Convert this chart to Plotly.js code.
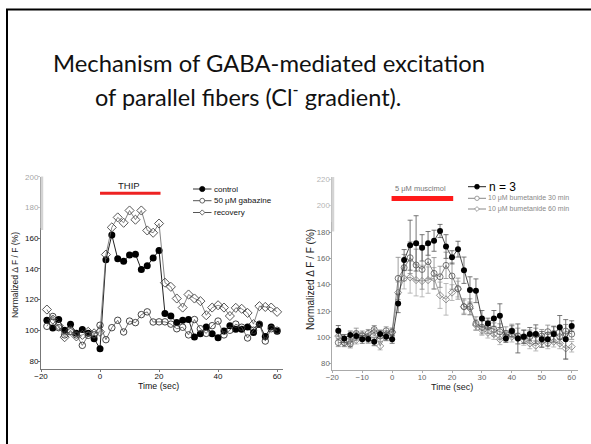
<!DOCTYPE html>
<html>
<head>
<meta charset="utf-8">
<script src="https://cdn.plot.ly/plotly-3.0.1.min.js"></script>
<style>html,body{margin:0;padding:0;background:#fff;}#chart{width:591px;height:444px;}</style>
</head>
<body>
<div id="chart"></div>
<script>
// ---------- DATA ----------
const timeLeft = [-18,-16,-14,-12,-10,-8,-6,-4,-2,0,2,4,6,8,10,12,14,16,18,20,22,24,26,28,30,32,34,36,38,40,42,44,46,48,50,52,54,56,58,60];
const controlLeft = [106.5,101.5,107,100,104,98,100.5,98,94.5,88,146,162,146.5,145,149,149.5,139.5,142,147,152,111,109.3,105,106.5,107,95.6,97.8,102.2,97.8,95.2,99.6,103,100.7,100.7,102.2,98.5,103.7,96,102.2,99.3];
const gabazineLeft = [102.6,109,101.7,97,99,97,90.2,96.7,97,103.3,93.9,101.7,106.5,98.9,106,105,110.2,112,105.4,105.5,105.5,104,101,102,97,107,101,98,103,106,97,100,104,102,95,100,104,93,101,100];
const recoveryLeft = [113.5,107,103,95.5,100,96,97,99,98,99,149.3,167,173.5,170,178,172,178,165,163.5,169.5,131,128.3,120.7,114.8,123.3,120.7,119,109.8,114.8,116.3,114.8,109.3,114.6,114,111.3,104,115.7,115.2,114.8,112];

const timeRight = [-18,-16,-14,-12,-10,-8,-6,-4,-2,0,2,4,6,8,10,12,14,16,18,20,22,24,26,28,30,32,34,36,38,40,42,44,46,48,50,52,54,56,58,60];
const controlRight = [105,99.2,101.8,101,98.5,98.7,96.7,102.5,100.5,98.5,125.8,158.7,170,171.4,168,171.4,173.4,180.8,169,160.8,167,151,136,135.4,114.4,110.6,114.4,116.5,99.2,104.8,99.2,100.5,102.5,102.5,98.5,98.5,102.5,107.6,98.5,108.6];
const controlRightErr = [4,3,3,3,3,3,3,3,3,3,7,8,19,21,10,9,8,5,9,5,6,10,10,9,6,4,6,9,3,4,11,5,5,7,6,5,6,9,15,4];
const bum30Right = [96,96,95,103,101,103,106,101,105,104,144.8,153,160.5,155,151.6,157.5,148.6,146,154.7,146.6,137,123.3,123.3,110.6,107.6,108,106,104.3,103,105,101,100.5,100.5,102,101,104.3,103,100.5,104.8,102.5];
const bum30RightErr = [3,3,3,4,3,3,3,4,3,3,16,10,12,12,15,13,12,8,10,10,8,6,6,5,5,5,5,6,5,5,6,5,5,5,5,5,5,5,5,4];
const bum60Right = [101,96,96,98,102,100,104,93.5,102,104,134,144.8,145.6,143.5,142.8,143.5,145,132,128.9,134,136.7,123.3,122,109.4,105.6,103.5,102.5,98.5,101,100.5,99.2,98,95.4,93.7,96.7,95.4,96.7,95.4,91.6,92.9];
const bum60RightErr = [3,3,3,3,3,3,3,3,3,3,8,8,12,12,12,10,8,10,12,6,6,5,5,4,4,4,4,4,4,4,4,4,4,4,4,4,4,4,8,4];

const thipPeriod = [0, 20.5];
const muscimolPeriod = [-0.2, 20.4];
const leftXTicks = [-20, 0, 20, 40, 60];
const leftYTicks = [80, 100, 120, 140, 160, 180, 200];
const rightXTicks = [-20, -10, 0, 10, 20, 30, 40, 50, 60];
const rightYTicks = [80, 100, 120, 140, 160, 180, 200, 220];
const leftLegend = ["control", "50 \u03bcM gabazine", "recovery"];
const rightLegend = ["n = 3", "10 \u03bcM bumetanide 30 min", "10 \u03bcM bumetanide 60 min"];

// ---------- LAYOUT HELPERS ----------
const W = 591, H = 444;
const px = x => x / W, py = y => 1 - y / H;
const FONT = '"Liberation Sans", Arial, sans-serif';

const traces = [
  {x: timeLeft, y: controlLeft, xaxis: 'x', yaxis: 'y', mode: 'lines+markers',
   line: {color: '#222', width: 1}, marker: {symbol: 'circle', size: 7, color: '#000'}},
  {x: timeLeft, y: gabazineLeft, xaxis: 'x', yaxis: 'y', mode: 'lines+markers',
   line: {color: '#555', width: 0.8}, marker: {symbol: 'circle-open', size: 6.5, color: '#333', line: {width: 0.9}}},
  {x: timeLeft, y: recoveryLeft, xaxis: 'x', yaxis: 'y', mode: 'lines+markers',
   line: {color: '#666', width: 0.8}, marker: {symbol: 'diamond-open', size: 7, color: '#444', line: {width: 0.9}}},
  {x: timeRight, y: bum60Right, xaxis: 'x2', yaxis: 'y2', mode: 'lines+markers',
   error_y: {type: 'data', array: bum60RightErr, color: '#aaa', thickness: 0.8, width: 2.5},
   line: {color: '#888', width: 0.8}, marker: {symbol: 'diamond-open', size: 5.5, color: '#777', line: {width: 0.8}}},
  {x: timeRight, y: bum30Right, xaxis: 'x2', yaxis: 'y2', mode: 'lines+markers',
   error_y: {type: 'data', array: bum30RightErr, color: '#888', thickness: 0.8, width: 2.5},
   line: {color: '#666', width: 0.8}, marker: {symbol: 'circle-open', size: 6, color: '#555', line: {width: 0.8}}},
  {x: timeRight, y: controlRight, xaxis: 'x2', yaxis: 'y2', mode: 'lines+markers',
   error_y: {type: 'data', array: controlRightErr, color: '#555', thickness: 0.8, width: 2.5},
   line: {color: '#333', width: 0.9}, marker: {symbol: 'circle', size: 6, color: '#000'}}
];

const shapes = [];
const annotations = [];

// frame of the slide
shapes.push({type: 'line', xref: 'paper', yref: 'paper', x0: px(6), x1: px(W), y0: py(9.5), y1: py(9.5), line: {color: '#000', width: 2}});
shapes.push({type: 'line', xref: 'paper', yref: 'paper', x0: px(7), x1: px(7), y0: py(9), y1: py(H), line: {color: '#000', width: 2}});

// stimulus bars
shapes.push({type: 'line', xref: 'x', yref: 'y', x0: thipPeriod[0], x1: thipPeriod[1], y0: 189.2, y1: 189.2, line: {color: '#ee2222', width: 3}});
shapes.push({type: 'line', xref: 'x2', yref: 'y2', x0: muscimolPeriod[0], x1: muscimolPeriod[1], y0: 205.5, y1: 205.5, line: {color: '#ff1a1a', width: 5}});

// ghosting on top of y axes
shapes.push({type: 'rect', xref: 'paper', yref: 'paper', layer: 'above', x0: px(20), x1: px(40.5), y0: py(228), y1: py(170), fillcolor: 'rgba(255,255,255,0.6)', line: {width: 0}});
shapes.push({type: 'line', xref: 'paper', yref: 'paper', layer: 'above', x0: px(42), x1: px(42), y0: py(230), y1: py(176.5), line: {color: '#d4d4d4', width: 2.5}});
shapes.push({type: 'rect', xref: 'paper', yref: 'paper', layer: 'above', x0: px(312), x1: px(331.5), y0: py(222), y1: py(170), fillcolor: 'rgba(255,255,255,0.5)', line: {width: 0}});
shapes.push({type: 'line', xref: 'paper', yref: 'paper', layer: 'above', x0: px(333), x1: px(333), y0: py(231.5), y1: py(177), line: {color: '#d4d4d4', width: 2.5}});

function legendRow(x0, x1, y, lineColor, kind, mColor, r, label, tx, fsize, tColor) {
  shapes.push({type: 'line', xref: 'paper', yref: 'paper', x0: px(x0), x1: px(x1), y0: py(y), y1: py(y), line: {color: lineColor, width: 1}});
  const cx = (x0 + x1) / 2;
  if (kind === 'diamond') {
    shapes.push({type: 'path', xref: 'paper', yref: 'paper',
      path: `M ${px(cx - r)} ${py(y)} L ${px(cx)} ${py(y - r)} L ${px(cx + r)} ${py(y)} L ${px(cx)} ${py(y + r)} Z`,
      fillcolor: '#fff', line: {color: mColor, width: 0.8}});
  } else {
    shapes.push({type: 'circle', xref: 'paper', yref: 'paper', x0: px(cx - r), x1: px(cx + r), y0: py(y + r), y1: py(y - r),
      fillcolor: kind === 'filled' ? mColor : '#fff', line: {color: mColor, width: 0.8}});
  }
  annotations.push({xref: 'paper', yref: 'paper', x: px(tx), y: py(y), xanchor: 'left', yanchor: 'middle', showarrow: false,
    text: label, font: {family: FONT, size: fsize, color: tColor}});
}
legendRow(193, 211.5, 189, '#333', 'filled', '#000', 2.6, leftLegend[0], 211.5, 8, '#111');
legendRow(193, 211.5, 200.7, '#555', 'open', '#444', 2.4, leftLegend[1], 211.5, 8, '#111');
legendRow(193, 211.5, 212.5, '#555', 'diamond', '#444', 2.6, leftLegend[2], 211.5, 8, '#111');
legendRow(468, 486, 186.7, '#222', 'filled', '#000', 2.4, rightLegend[0], 486.5, 12, '#000');
legendRow(468, 486, 198.3, '#888', 'open', '#888', 2.2, rightLegend[1], 486, 7, '#888');
legendRow(468, 486, 209, '#888', 'diamond', '#888', 2.4, rightLegend[2], 486, 7, '#888');

// title
annotations.push({xref: 'paper', yref: 'paper', x: px(269), y: py(63), xanchor: 'center', yanchor: 'middle', showarrow: false,
  text: 'Mechanism of GABA-mediated excitation', font: {family: 'Lato, "Open Sans", sans-serif', size: 23.8, color: '#111'}});
annotations.push({xref: 'paper', yref: 'paper', x: px(248), y: py(95), xanchor: 'center', yanchor: 'middle', showarrow: false,
  text: 'of parallel fibers (Cl<sup>-</sup> gradient).', font: {family: 'Lato, "Open Sans", sans-serif', size: 23.5, color: '#111'}});

// stimulus labels
annotations.push({xref: 'paper', yref: 'paper', x: px(129.3), y: py(185), xanchor: 'center', yanchor: 'middle', showarrow: false,
  text: 'THIP', font: {family: FONT, size: 9.5, color: '#222'}});
annotations.push({xref: 'paper', yref: 'paper', x: px(420), y: py(188.3), xanchor: 'center', yanchor: 'middle', showarrow: false,
  text: '5 \u03bcM muscimol', font: {family: FONT, size: 7.5, color: '#777'}});

// axis titles
annotations.push({xref: 'paper', yref: 'paper', x: px(15), y: py(275), xanchor: 'center', yanchor: 'middle', showarrow: false, textangle: -90,
  text: 'Normalized \u0394 F / F (%)', font: {family: FONT, size: 8.5, color: '#222'}});
annotations.push({xref: 'paper', yref: 'paper', x: px(310), y: py(280), xanchor: 'center', yanchor: 'middle', showarrow: false, textangle: -90,
  text: 'Normalized \u0394 F / F (%)', font: {family: FONT, size: 10, color: '#222'}});
annotations.push({xref: 'paper', yref: 'paper', x: px(159), y: py(386), xanchor: 'center', yanchor: 'middle', showarrow: false,
  text: 'Time (sec)', font: {family: FONT, size: 8.8, color: '#111'}});
annotations.push({xref: 'paper', yref: 'paper', x: px(452), y: py(387), xanchor: 'center', yanchor: 'middle', showarrow: false,
  text: 'Time (sec)', font: {family: FONT, size: 9, color: '#222'}});

const axBase = {showgrid: false, zeroline: false, showline: true, ticks: 'outside', ticklen: 2, fixedrange: true};

const layout = {
  width: W, height: H, margin: {l: 0, r: 0, t: 0, b: 0}, paper_bgcolor: '#fff', plot_bgcolor: 'rgba(0,0,0,0)',
  showlegend: false, font: {family: FONT},
  xaxis: Object.assign({}, axBase, {domain: [px(41), px(283)], range: [-20, 62], anchor: 'y', tickvals: leftXTicks,
    ticklabelstandoff: -3, linecolor: '#777', tickcolor: '#777', tickfont: {size: 8, color: '#111'}}),
  yaxis: Object.assign({}, axBase, {domain: [py(369.3), py(176.7)], range: [74.6, 200], anchor: 'x', tickvals: leftYTicks,
    ticklabelstandoff: -2, linecolor: '#777', tickcolor: '#777', tickfont: {size: 8, color: '#111'}}),
  xaxis2: Object.assign({}, axBase, {domain: [px(332.3), px(577.7)], range: [-20, 62], anchor: 'y2', tickvals: rightXTicks,
    ticklabelstandoff: -3, linecolor: '#aaa', tickcolor: '#aaa', tickfont: {size: 7.8, color: '#666'}}),
  yaxis2: Object.assign({}, axBase, {domain: [py(370.3), py(177.4)], range: [75, 221.5], anchor: 'x2', tickvals: rightYTicks,
    ticklabelstandoff: -2, linecolor: '#aaa', tickcolor: '#aaa', tickfont: {size: 7.8, color: '#666'}}),
  shapes: shapes,
  annotations: annotations
};

Plotly.newPlot('chart', traces, layout, {displayModeBar: false, staticPlot: true});
</script>
</body>
</html>
